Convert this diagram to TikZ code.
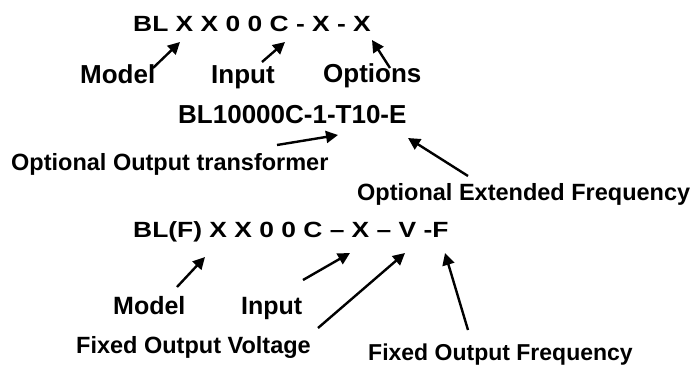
\documentclass[tikz,border=0pt]{standalone}
\usepackage{fontspec}
\setmainfont{Liberation Sans}
\newfontfamily\partfont[FakeStretch=1.2]{Liberation Sans}
\usetikzlibrary{arrows.meta}

\begin{document}
\begin{tikzpicture}[x=1pt, y=-1pt, >={Triangle[length=12pt,width=12pt]},
  partno/.style={anchor=base west, inner sep=0pt, font=\partfont\bfseries\fontsize{22}{26}\selectfont},
  note/.style={anchor=base west, inner sep=0pt, font=\bfseries\fontsize{#1}{#1}\selectfont},
  note/.default=23.5,
  pointer/.style={->, line width=2.4pt}]
  \useasboundingbox (0,0) rectangle (692,369);
  % standard model code
  \node[partno] (codeA) at (133,31) {BL X X 0 0 C - X - X};
  \node[note=26] (modelA) at (80,83) {Model};
  \node[note=26] (inputA) at (211,83) {Input};
  \node[note=26] (optionsA) at (323,82) {Options};
  \coordinate (tailModelA) at (153,68);   \coordinate (tipModelA) at (180,42);
  \coordinate (tailInputA) at (262,62);   \coordinate (tipInputA) at (285,42);
  \coordinate (tailOptionsA) at (390,68); \coordinate (tipOptionsA) at (372,40);
  \draw[pointer] (tailModelA) -- (tipModelA);
  \draw[pointer] (tailInputA) -- (tipInputA);
  \draw[pointer] (tailOptionsA) -- (tipOptionsA);
  % example with options
  \node[note=26] (codeB) at (178,123) {BL10000C-1-T10-E};
  \node[note] (transformer) at (11,170) {Optional Output transformer};
  \node[note] (extfreq) at (357,200) {Optional Extended Frequency};
  \coordinate (tailTrans) at (277,145); \coordinate (tipTrans) at (338,135);
  \coordinate (tailExt) at (468,176);   \coordinate (tipExt) at (408,138);
  \draw[pointer] (tailTrans) -- (tipTrans);
  \draw[pointer] (tailExt) -- (tipExt);
  % fixed output model code
  \node[partno] (codeC) at (133,237) {BL(F) X X 0 0 C – X – V -F};
  \node[note=25] (modelC) at (113,314) {Model};
  \node[note=25] (inputC) at (241,314) {Input};
  \node[note] (voltage) at (76,353) {Fixed Output Voltage};
  \node[note=23] (frequency) at (368,360) {Fixed Output Frequency};
  \coordinate (tailModelC) at (177,287); \coordinate (tipModelC) at (205,257);
  \coordinate (tailInputC) at (303,280); \coordinate (tipInputC) at (350,253);
  \coordinate (tailVolt) at (318,328);   \coordinate (tipVolt) at (405,253);
  \coordinate (tailFreq) at (468,330);   \coordinate (tipFreq) at (445,253);
  \draw[pointer] (tailModelC) -- (tipModelC);
  \draw[pointer] (tailInputC) -- (tipInputC);
  \draw[pointer] (tailVolt) -- (tipVolt);
  \draw[pointer] (tailFreq) -- (tipFreq);
\end{tikzpicture}
\end{document}
